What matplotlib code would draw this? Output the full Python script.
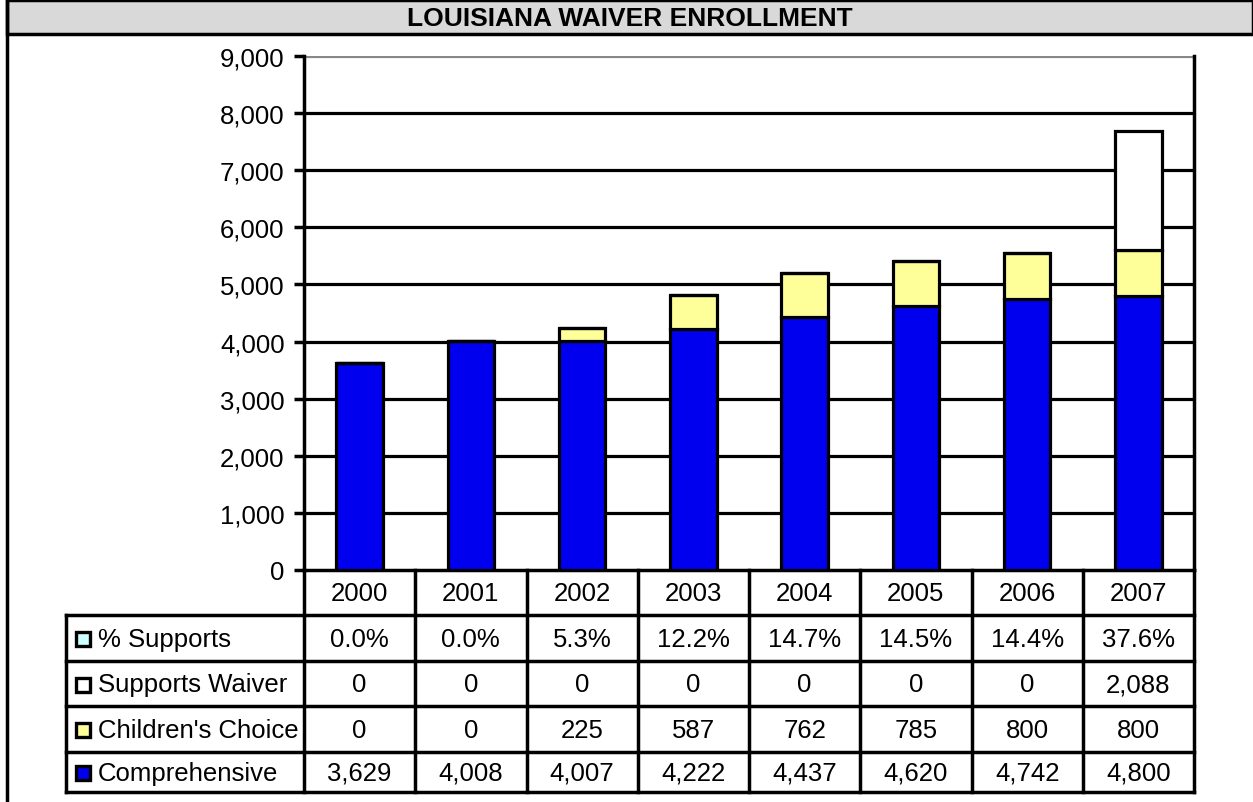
import matplotlib
matplotlib.use("Agg")
import matplotlib.pyplot as plt
from matplotlib.patches import Rectangle
import numpy as np

plt.rcParams['font.family'] = ['Liberation Sans', 'DejaVu Sans']

title = "LOUISIANA WAIVER ENROLLMENT"
years = ["2000", "2001", "2002", "2003", "2004", "2005", "2006", "2007"]
comprehensive = [3629, 4008, 4007, 4222, 4437, 4620, 4742, 4800]
childrens_choice = [0, 0, 225, 587, 762, 785, 800, 800]
supports_waiver = [0, 0, 0, 0, 0, 0, 0, 2088]
pct_supports = ["0.0%", "0.0%", "5.3%", "12.2%", "14.7%", "14.5%", "14.4%", "37.6%"]
y_ticks = [0, 1000, 2000, 3000, 4000, 5000, 6000, 7000, 8000, 9000]

row_names = ["% Supports", "Supports Waiver", "Children's Choice", "Comprehensive"]
row_colors = ["#CCFFFF", "#FFFFFF", "#FFFF99", "#0000EE"]

FS = 18.5
W, H = 1253, 803
fig = plt.figure(figsize=(W / 100, H / 100), dpi=100)

ax_l, ax_r, ax_t, ax_b = 304, 1194, 57, 571

def fx(px):
    return px / W

def fy(py):
    return 1 - py / H

ax = fig.add_axes([fx(ax_l), fy(ax_b), fx(ax_r - ax_l), (ax_b - ax_t) / H])
x = np.arange(len(years))
bw = 0.42
edge = dict(edgecolor="black", linewidth=2.3)
ax.bar(x, comprehensive, bw, color=row_colors[3], zorder=3, **edge)
bottom2 = np.array(comprehensive)
ax.bar(x, childrens_choice, bw, bottom=bottom2, color=row_colors[2], zorder=3, **edge)
bottom3 = bottom2 + np.array(childrens_choice)
ax.bar(x, supports_waiver, bw, bottom=bottom3, color=row_colors[1], zorder=3, **edge)

ax.set_xlim(-0.5, len(years) - 0.5)
ax.set_ylim(0, 9000)
ax.set_yticks(y_ticks)
ax.set_yticklabels([f"{v:,}" for v in y_ticks], fontsize=FS)
ax.tick_params(axis="y", length=7, width=2.5, pad=7, direction="out")
ax.set_xticks([])
for v in y_ticks[1:-1]:
    ax.axhline(v, color="black", lw=2.3, zorder=1)
ax.axhline(9000, color="#888888", lw=2.3, zorder=1)
ax.spines["top"].set_visible(False)
ax.spines["left"].set_linewidth(2.5)
ax.spines["right"].set_linewidth(2.5)
ax.spines["bottom"].set_linewidth(2.5)

ov = fig.add_axes([0, 0, 1, 1], zorder=5)
ov.set_xlim(0, W)
ov.set_ylim(H, 0)
ov.axis("off")
ov.patch.set_alpha(0)

ov.add_patch(Rectangle((7, 1), W - 7, 34, facecolor="#D9D9D9", edgecolor="black", lw=2.5))
ov.text(630, 18.5, title, ha="center", va="center", fontsize=19, fontweight="bold")
ov.plot([7, 7], [1, H], color="black", lw=2.5)

col_w = (ax_r - ax_l) / len(years)
col_edges = [ax_l + i * col_w for i in range(len(years) + 1)]
row_edges = [571, 616, 662, 707, 753, 793]
tab_left = 66
lw = 2.5
for i, yr in enumerate(years):
    ov.text((col_edges[i] + col_edges[i + 1]) / 2, (row_edges[0] + row_edges[1]) / 2 + 1,
            yr, ha="center", va="center", fontsize=FS)
for ce in col_edges:
    ov.plot([ce, ce], [row_edges[0], row_edges[-1]], color="black", lw=lw)
for re_ in row_edges[1:]:
    ov.plot([tab_left, ax_r], [re_, re_], color="black", lw=lw)
ov.plot([tab_left, tab_left], [row_edges[1], row_edges[-1]], color="black", lw=lw)

rows_vals = [pct_supports,
             [f"{v:,}" for v in supports_waiver],
             [f"{v:,}" for v in childrens_choice],
             [f"{v:,}" for v in comprehensive]]
clip = Rectangle((tab_left, row_edges[1]), ax_l - tab_left - 1, row_edges[-1] - row_edges[1],
                 transform=ov.transData, fill=False, visible=False)
ov.add_patch(clip)
for r, (name, col, vals) in enumerate(zip(row_names, row_colors, rows_vals)):
    yc = (row_edges[r + 1] + row_edges[r + 2]) / 2 + 1
    ov.add_patch(Rectangle((76, yc - 7), 14, 14, facecolor=col, edgecolor="black", lw=2.4))
    t = ov.text(98, yc, name, ha="left", va="center", fontsize=FS)
    t.set_clip_path(clip)
    for i, v in enumerate(vals):
        ov.text((col_edges[i] + col_edges[i + 1]) / 2, yc, v, ha="center", va="center", fontsize=FS)

fig.savefig("out.png", dpi=100)
